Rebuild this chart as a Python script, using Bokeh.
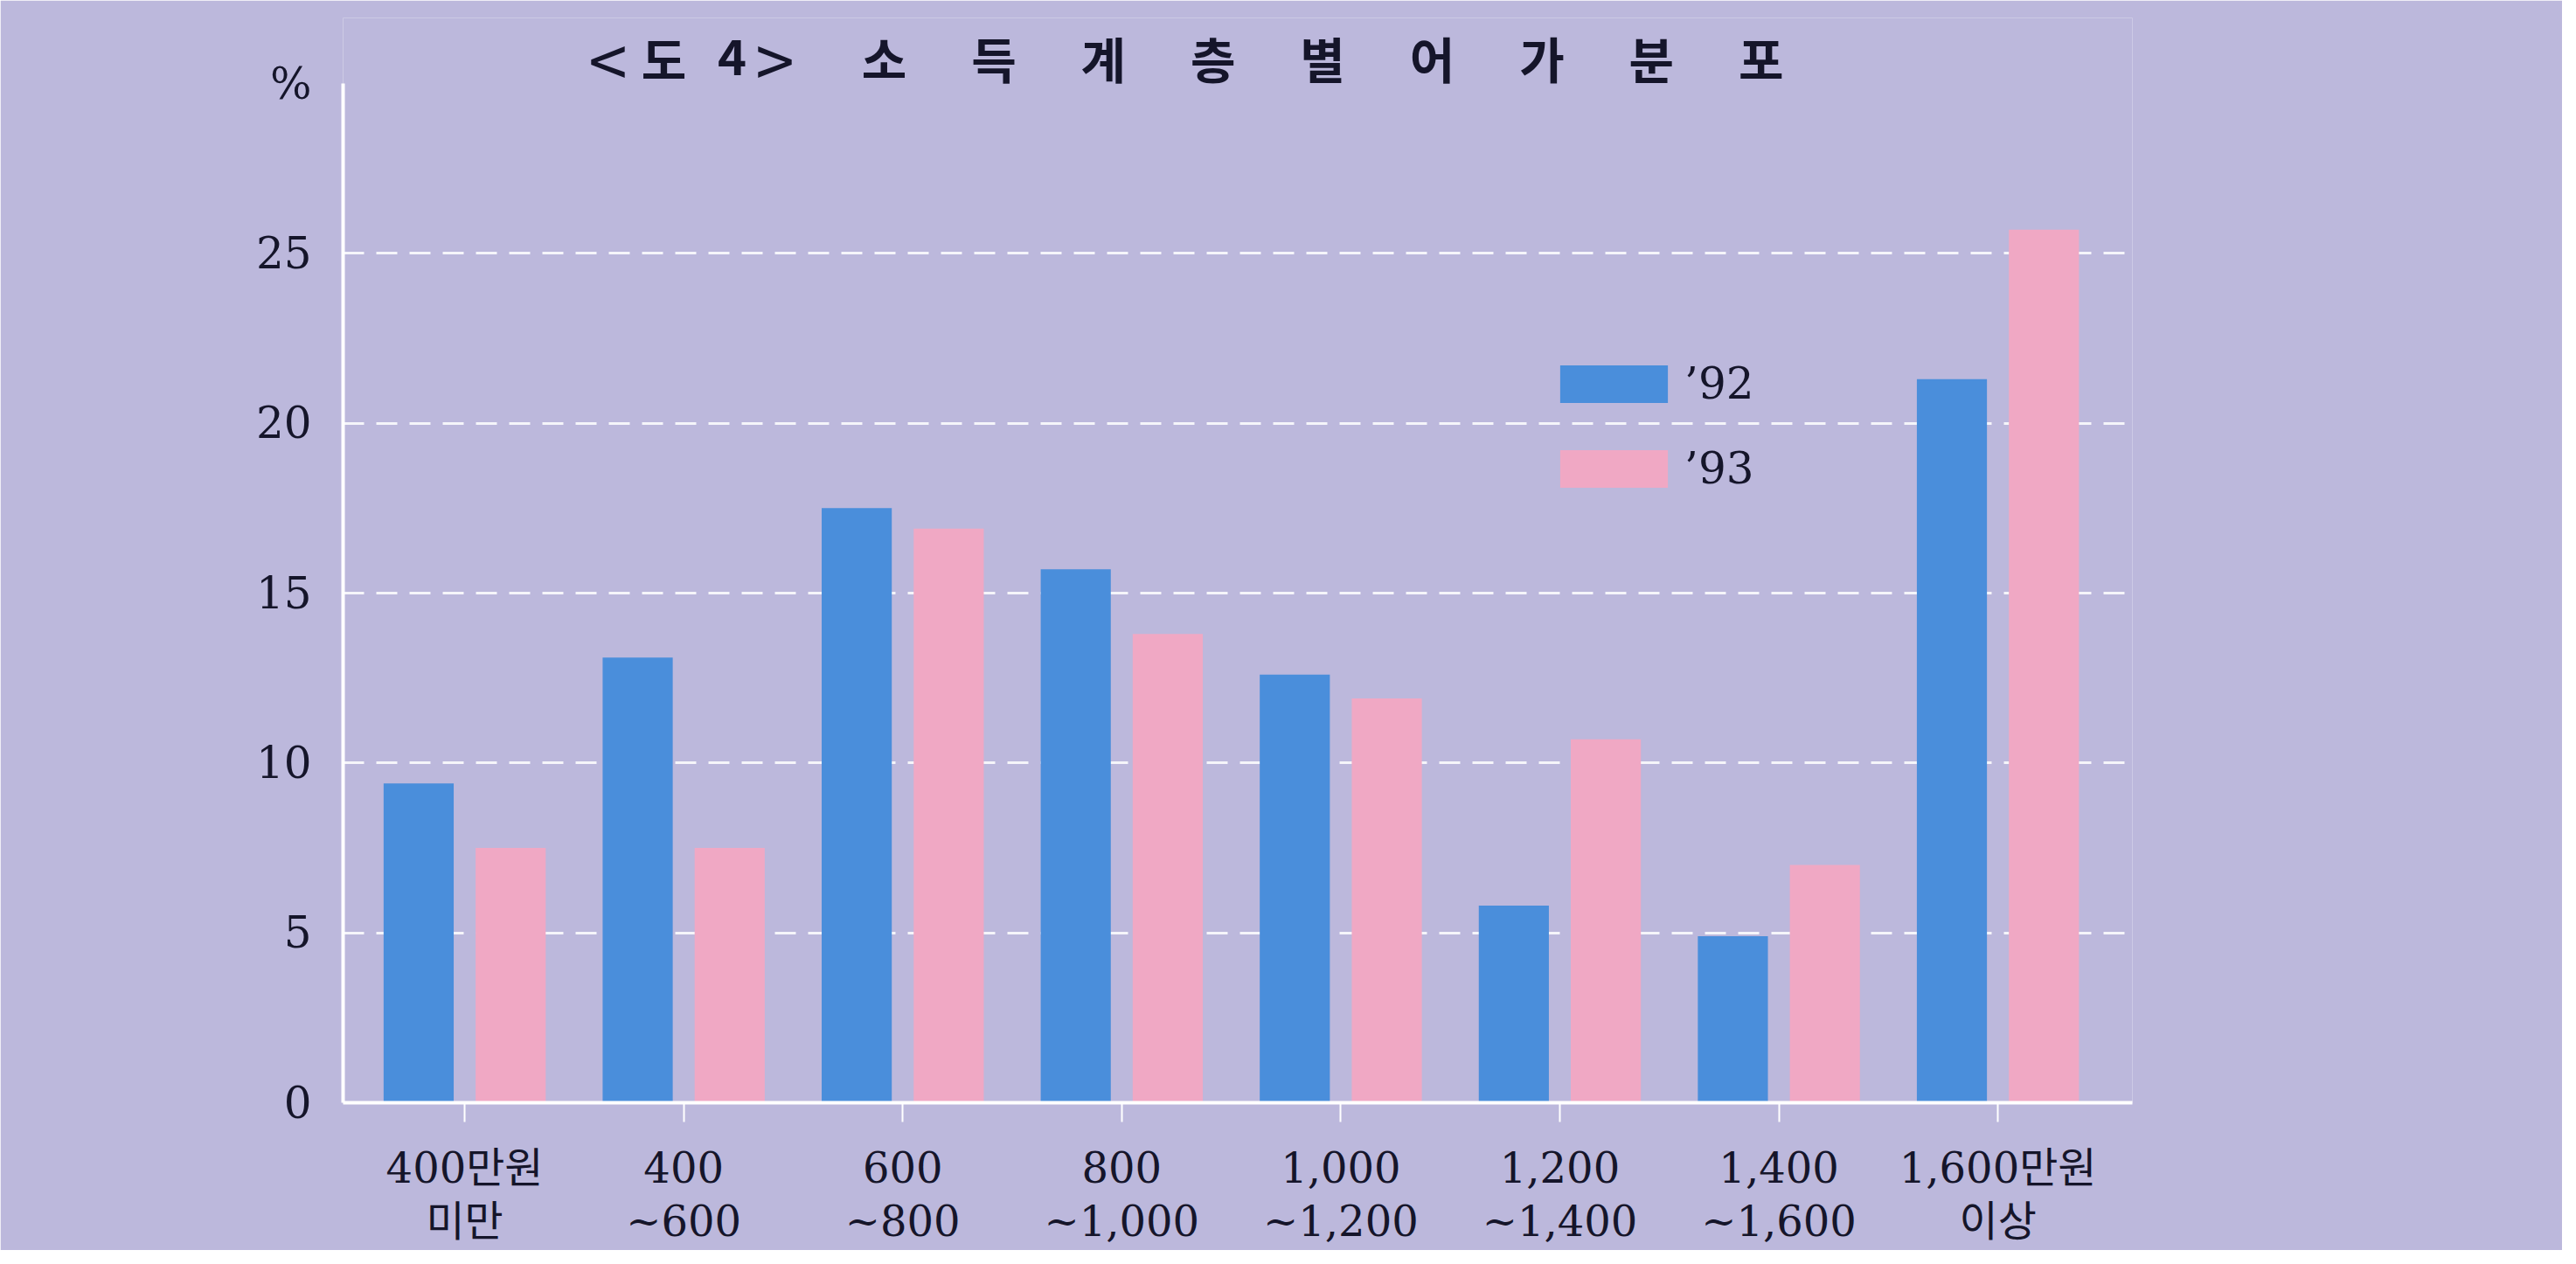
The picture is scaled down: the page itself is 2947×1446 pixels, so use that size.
from bokeh.plotting import figure
from bokeh.models import Range1d, FixedTicker, Label, Legend, LegendItem, ColumnDataSource
from bokeh.embed import file_html
from bokeh.resources import INLINE
import numpy as np

# ---- data ----
categories = ["400만원\n미만", "400\n~600", "600\n~800", "800\n~1,000",
              "1,000\n~1,200", "1,200\n~1,400", "1,400\n~1,600", "1,600만원\n이상"]
series_92 = [9.4, 13.1, 17.5, 15.7, 12.6, 5.8, 4.9, 21.3]
series_93 = [7.5, 7.5, 16.9, 13.8, 11.9, 10.7, 7.0, 25.7]
series_names = ["’92", "’93"]
y_ticks = [0, 5, 10, 15, 20, 25]
y_top = 30
y_unit = "%"
title_head = ["<", "도", "4", ">"]
title_chars = ["소", "득", "계", "층", "별", "어", "가", "분", "포"]

# ---- style ----
BG = "#bcb8dc"
BLUE = "#4a8edb"
PINK = "#f0a8c4"
INK = "#15152a"
SERIF = "DejaVu Serif, Noto Sans CJK KR"
SANS = "Noto Sans CJK KR"

W, H = 2931, 1430
FL, FR, FB = 392, 2439, 1261
AXIS_TOP = 95          # canvas y of value y_top
FT = 20                # frame top (room for the title inside the frame)
px_per_unit = (FB - AXIS_TOP) / y_top
y_end = y_top + (AXIS_TOP - FT) / px_per_unit

idx = np.arange(len(categories))
src = ColumnDataSource(dict(x92=idx - 0.21, x93=idx + 0.21, v92=series_92, v93=series_93))

p = figure(width=W, height=H, output_backend="svg", toolbar_location=None, tools="",
           x_range=Range1d(-0.555, 7.614), y_range=Range1d(0, y_end),
           min_border_left=FL, min_border_right=W - FR, min_border_top=FT,
           min_border_bottom=H - FB)
p.background_fill_color = BG
p.border_fill_color = BG
p.outline_line_color = None

r1 = p.vbar(x="x92", top="v92", width=0.32, source=src, fill_color=BLUE, line_color=None)
r2 = p.vbar(x="x93", top="v93", width=0.32, source=src, fill_color=PINK, line_color=None)

# x axis
p.xaxis.ticker = FixedTicker(ticks=list(idx))
p.xaxis.major_label_overrides = {int(i): c for i, c in zip(idx, categories)}
p.xaxis.axis_line_color = "white"
p.xaxis.axis_line_width = 4
p.xaxis.major_tick_line_color = "white"
p.xaxis.major_tick_line_width = 2
p.xaxis.major_tick_out = 22
p.xaxis.major_tick_in = 0
p.xaxis.minor_tick_line_color = None
p.xaxis.major_label_standoff = 24
p.xaxis.major_label_text_font = SERIF
p.xaxis.major_label_text_font_size = "48px"
p.xaxis.major_label_text_color = INK
p.xaxis.major_label_text_line_height = 1.1

# y axis (line only up to y_top, unit sign as the top label)
p.yaxis.bounds = (0, y_top)
p.yaxis.ticker = FixedTicker(ticks=y_ticks + [y_top])
p.yaxis.major_label_overrides = {y_top: y_unit}
p.yaxis.axis_line_color = "white"
p.yaxis.axis_line_width = 4
p.yaxis.major_tick_line_color = None
p.yaxis.minor_tick_line_color = None
p.yaxis.major_label_standoff = 30
p.yaxis.major_label_text_font = SERIF
p.yaxis.major_label_text_font_size = "50px"
p.yaxis.major_label_text_color = INK

p.xgrid.grid_line_color = None
p.ygrid.ticker = FixedTicker(ticks=y_ticks[1:])
p.ygrid.grid_line_color = "white"
p.ygrid.grid_line_width = 3
p.ygrid.grid_line_alpha = 0.85
p.ygrid.grid_line_dash = "24 14"

# legend
legend = Legend(items=[LegendItem(label=series_names[0], renderers=[r1]),
                       LegendItem(label=series_names[1], renderers=[r2])],
                location=(1377, 696), orientation="vertical",
                background_fill_alpha=0, border_line_color=None,
                glyph_width=154, glyph_height=54, label_height=54,
                label_standoff=4, spacing=39, padding=0, margin=0,
                label_text_font=SERIF, label_text_font_size="50px",
                label_text_color=INK)
p.add_layout(legend)

# title (inside the frame, above the y axis top)
TY = FB - 65
head_x = [303, 367, 445, 494]
head_size = ["80px", "56px", "56px", "80px"]
head_style = ["normal", "bold", "bold", "normal"]
for t, hx, hs, st in zip(title_head, head_x, head_size, head_style):
    p.add_layout(Label(x=hx, y=TY, x_units="screen", y_units="screen", text=t,
                       text_align="center", text_baseline="middle",
                       text_font=SANS, text_font_size=hs, text_font_style=st,
                       text_color=INK))
for k, ch in enumerate(title_chars):
    p.add_layout(Label(x=619 + k * 125.4, y=TY, x_units="screen", y_units="screen",
                       text=ch, text_align="center", text_baseline="middle",
                       text_font=SANS, text_font_size="56px", text_font_style="bold",
                       text_color=INK))

open("out.html", "w").write(file_html(p, INLINE))
